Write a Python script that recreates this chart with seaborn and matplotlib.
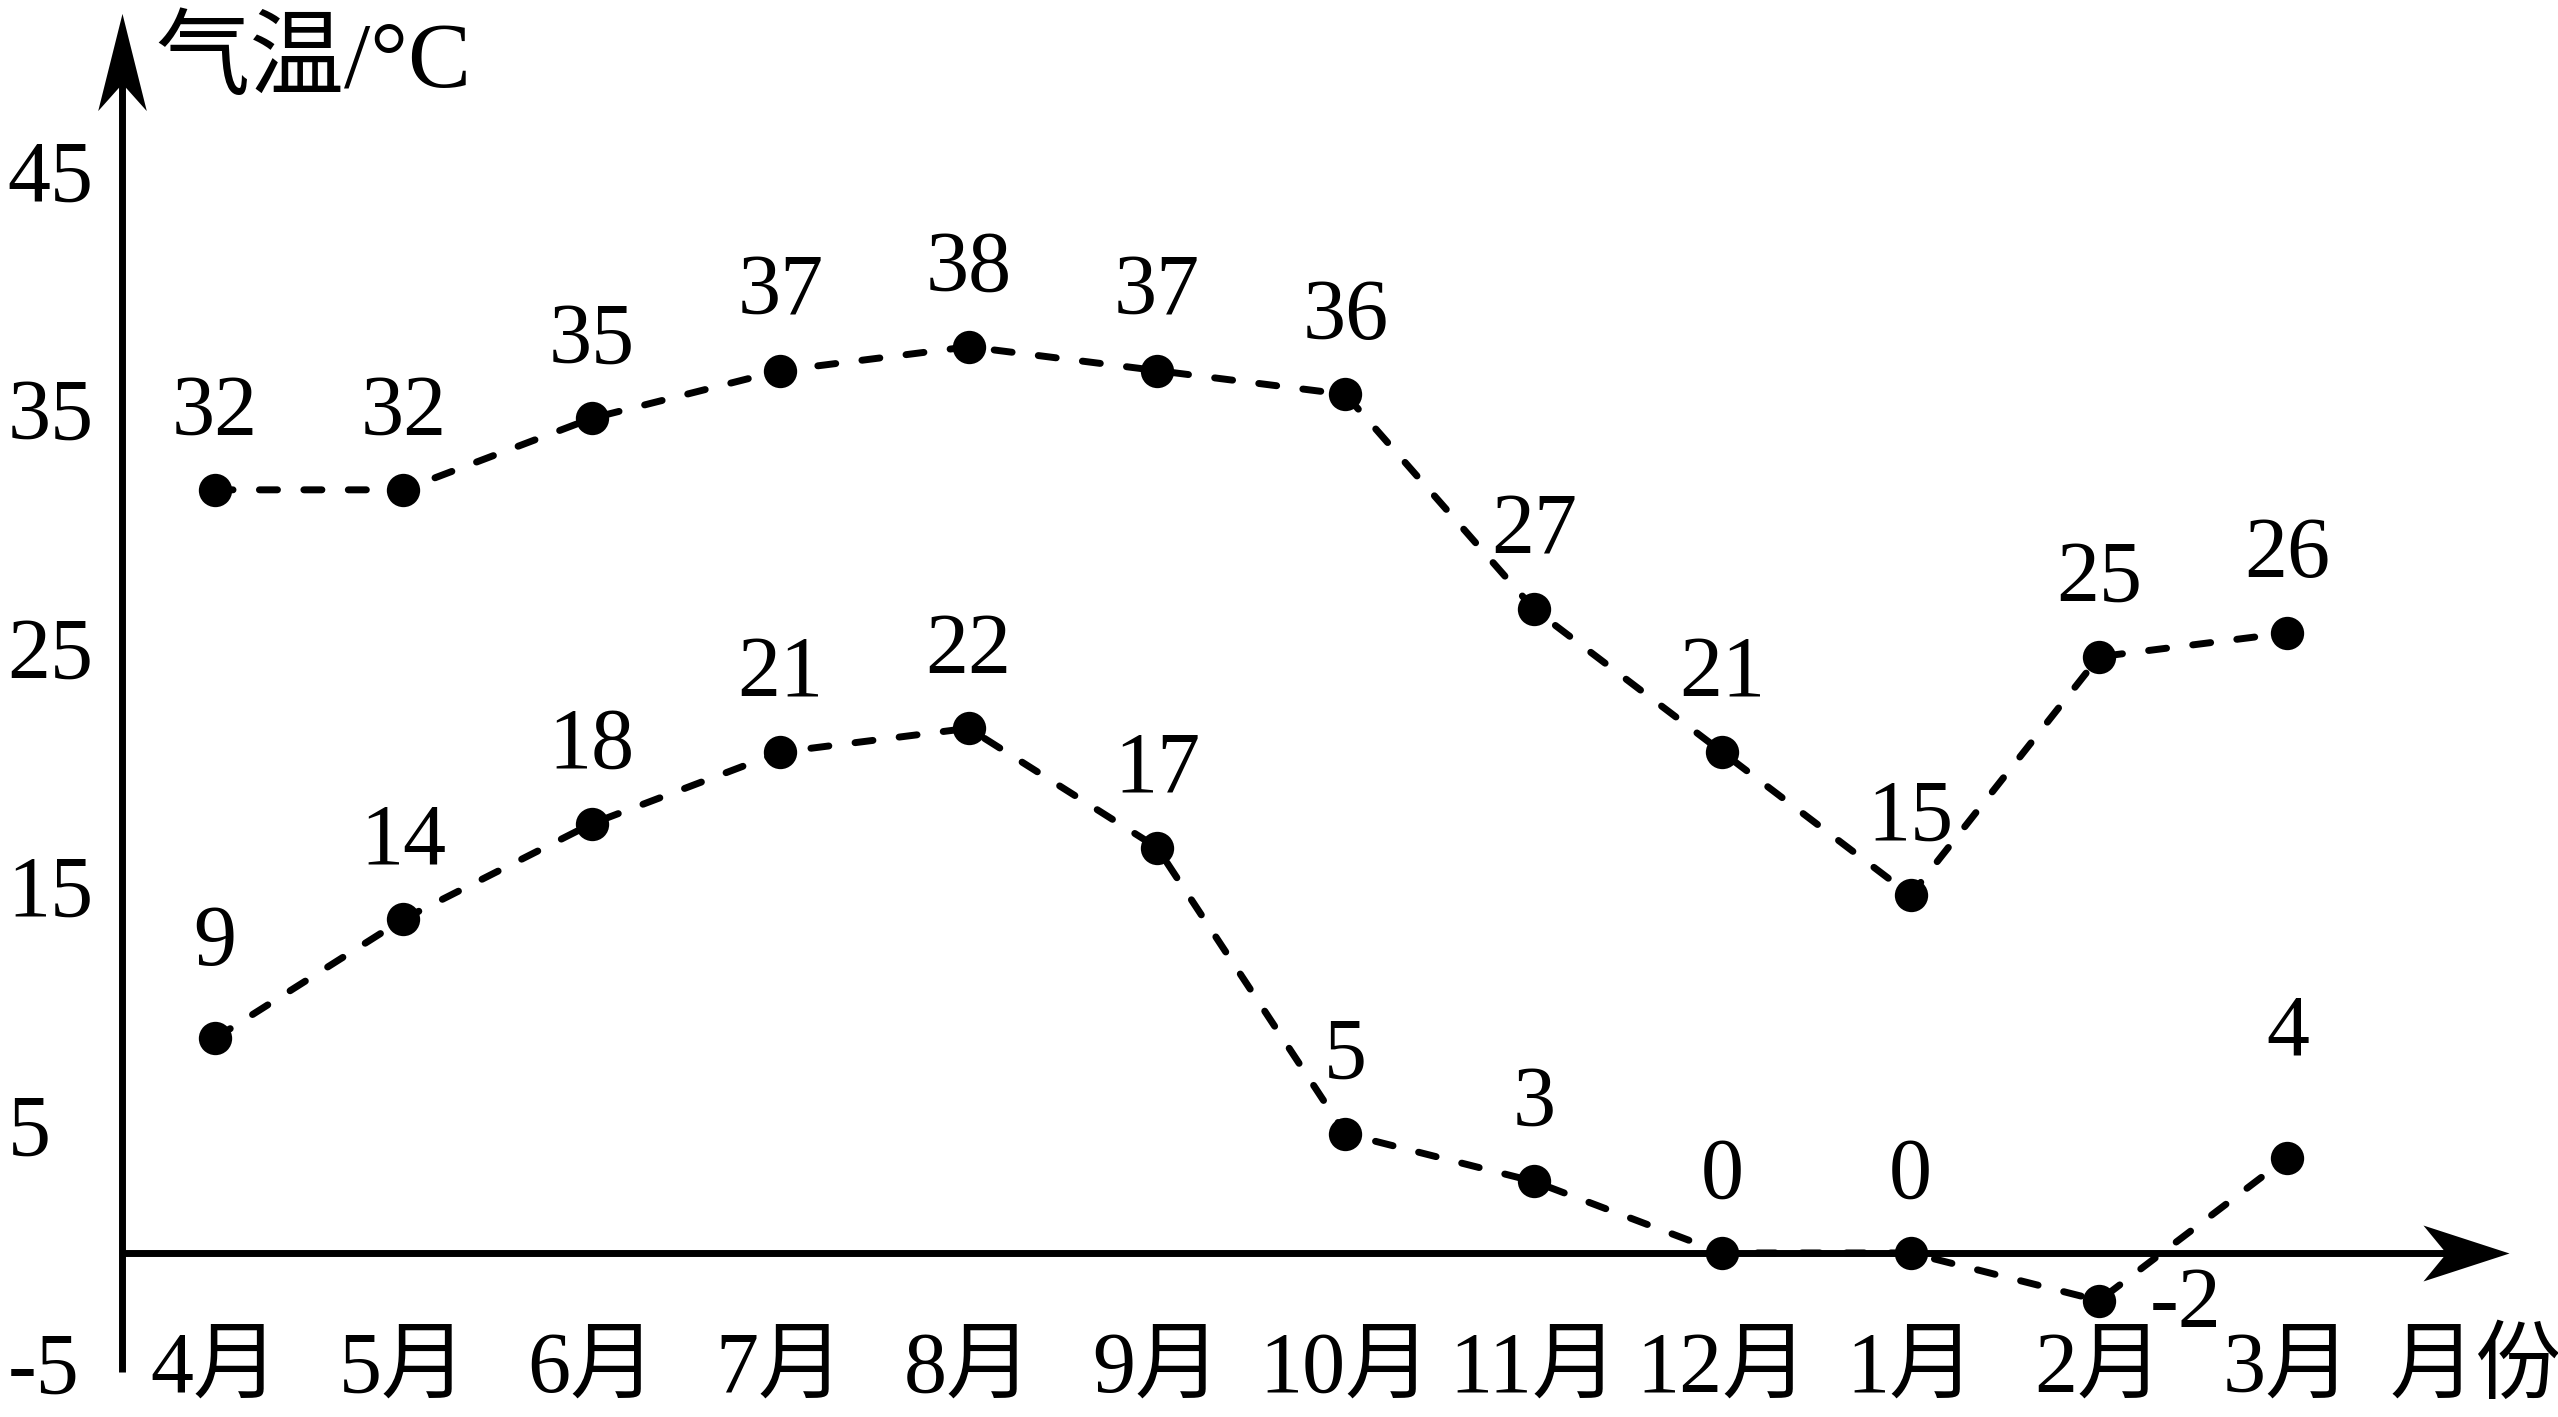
import numpy as np
import pandas as pd
import matplotlib
matplotlib.use('Agg')
import matplotlib.pyplot as plt
from matplotlib.path import Path
import seaborn as sns

# 月份与气温数据
months = ['4月', '5月', '6月', '7月', '8月', '9月', '10月', '11月', '12月', '1月', '2月', '3月']
high = [32, 32, 35, 37, 38, 37, 36, 27, 21, 15, 25, 26]
low = [9, 14, 18, 21, 22, 17, 5, 3, 0, 0, -2, 4]
yticks = [-5, 5, 15, 25, 35, 45]

x = np.arange(len(months))
df = pd.DataFrame({'x': x, 'high': high, 'low': low})

sns.set_style('white')
plt.rcParams['font.family'] = ['Liberation Serif', 'Noto Sans CJK SC']
plt.rcParams['text.color'] = 'black'

fig = plt.figure(figsize=(25.58, 14.17), dpi=100)
ax = fig.add_axes([0, 0, 1, 1])

line_kw = dict(color='black', marker='o', markersize=24, markeredgewidth=0,
               linewidth=5, linestyle=(0, (2.6, 3.8)), dash_capstyle='round', zorder=3)
sns.lineplot(data=df, x='x', y='high', ax=ax, **line_kw)
sns.lineplot(data=df, x='x', y='low', ax=ax, **line_kw)

ax.set_xlim(-1.141, 12.436)
ax.set_ylim(-6.88, 52.54)
ax_x0 = -0.494

# 坐标轴
for s in ['top', 'right']:
    ax.spines[s].set_visible(False)
ax.spines['left'].set_position(('data', ax_x0))
ax.spines['left'].set_bounds(-5, 50.5)
ax.spines['bottom'].set_position(('data', 0))
ax.spines['bottom'].set_bounds(ax_x0, 11.95)
for s in ['left', 'bottom']:
    ax.spines[s].set_linewidth(5)
    ax.spines[s].set_color('black')
    ax.spines[s].set_capstyle('butt')
ax.set_xticks(x)
ax.set_yticks(yticks)
ax.tick_params(axis='y', direction='in', length=20, width=4, color='black',
               labelleft=False)
ax.tick_params(axis='x', direction='in', length=13, width=3.5, color='black',
               labelbottom=False)
ax.set_xlabel('')
ax.set_ylabel('')

# 箭头
up = Path([(0, 1), (-0.5, -1), (0, -0.44), (0.5, -1), (0, 1)],
          [Path.MOVETO, Path.LINETO, Path.LINETO, Path.LINETO, Path.CLOSEPOLY])
right = Path([(1, 0), (-1, 0.65), (-0.465, 0), (-1, -0.65), (1, 0)],
             [Path.MOVETO, Path.LINETO, Path.LINETO, Path.LINETO, Path.CLOSEPOLY])
ax.plot([ax_x0], [49.96], marker=up, markersize=70, color='black', mew=0, clip_on=False)
ax.plot([11.95], [0], marker=right, markersize=62, color='black', mew=0, clip_on=False)

fs = 62
# y 轴刻度标签
ytr = ax.get_yaxis_transform()
for v in yticks:
    ax.text(0.003, v, str(v), transform=ytr, ha='left', va='center', fontsize=fs,
            color='black')

# x 轴刻度标签
for i, m in enumerate(months):
    ax.text(i, -4.95, m, ha='center', va='center', fontsize=fs, color='black')
ax.text(12.0, -4.95, '月份', ha='center', va='center', fontsize=fs, color='black')
ax.text(-0.318, 49.9, '气温/°C', ha='left', va='center', fontsize=68, color='black')

# 数据标签
for i, v in enumerate(high):
    ax.annotate(str(v), (i, v), xytext=(0, 55), textcoords='offset points',
                ha='center', va='center', fontsize=fs, color='black')
low_off = {0: (0, 68), 10: (62, -4), 11: (0, 89)}
for i, v in enumerate(low):
    dx, dy = low_off.get(i, (0, 55))
    ax.annotate(str(v), (i, v), xytext=(dx, dy), textcoords='offset points',
                ha='center', va='center', fontsize=fs, color='black')

fig.savefig('out.png', dpi=100)
